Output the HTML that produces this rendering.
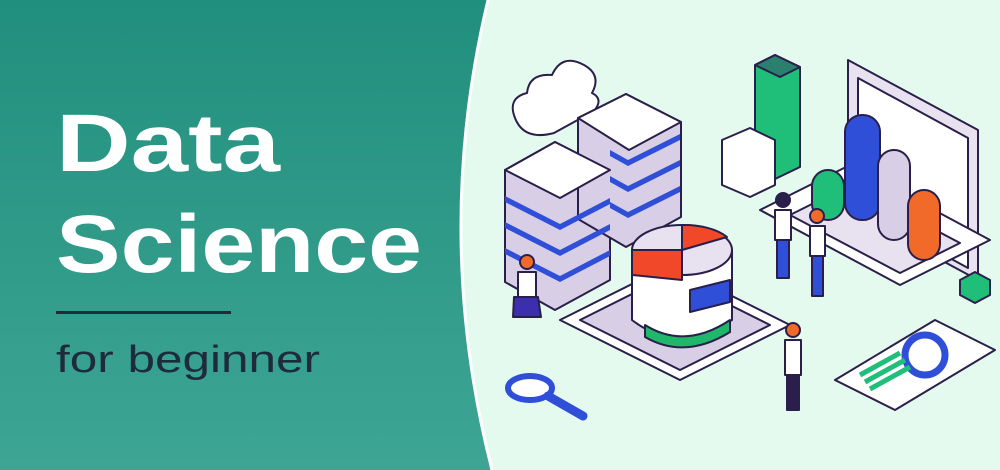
<!DOCTYPE html>
<html><head><meta charset="utf-8"><style>
html,body{margin:0;padding:0;width:1000px;height:470px;overflow:hidden;background:#e4faee}
svg{display:block}
</style></head><body>
<svg width="1000" height="470" viewBox="0 0 1000 470" xmlns="http://www.w3.org/2000/svg">
<defs><linearGradient id="g" x1="0" y1="0" x2="0" y2="1"><stop offset="0" stop-color="#218f7d"/><stop offset="1" stop-color="#3ea594"/></linearGradient></defs>
<rect width="1000" height="470" fill="#e4faee"/>
<path d="M0 0H488Q432 235 492 470H0Z" fill="url(#g)"/>
<path d="M488 0Q432 235 492 470" fill="none" stroke="#fff" stroke-width="3"/>
<text x="56" y="171" textLength="224" lengthAdjust="spacingAndGlyphs" font-family="Liberation Sans,sans-serif" font-weight="bold" font-size="82" fill="#fff">Data</text>
<text x="56" y="272" textLength="366" lengthAdjust="spacingAndGlyphs" font-family="Liberation Sans,sans-serif" font-weight="bold" font-size="82" fill="#fff">Science</text>
<rect x="56" y="311" width="175" height="3" fill="#1d2b3a"/>
<text x="56" y="372" textLength="264" lengthAdjust="spacingAndGlyphs" font-family="Liberation Sans,sans-serif" font-size="38" fill="#1d2b3a">for beginner</text>
<g stroke="#2a1f4a" stroke-width="2" stroke-linejoin="round">
<path d="M515 118q-8-20 12-25q2-20 25-18q10-22 32-10q18 10 8 28q12 6 2 18l-40 22q-30 8-39-15z" fill="#fff"/>
<g fill="#d8cfe6">
<path d="M505 170l50-28 55 28v110l-55 30-50-28z"/>
<path d="M578 118l48-24 55 28v95l-55 30-48-28z"/>
</g>
<path d="M505 170l50-28 55 28-50 28z" fill="#fff"/>
<path d="M578 118l48-24 55 28-52 28z" fill="#fff"/>
<g fill="#2f4fd8" stroke="none">
<path d="M505 196l55 28 50-26v6l-50 26-55-28z"/><path d="M505 222l55 28 50-26v6l-50 26-55-28z"/><path d="M505 248l55 28 50-26v6l-50 26-55-28z"/>
<path d="M610 150l18 10 52-26v6l-52 26-18-10z"/><path d="M610 176l18 10 52-26v6l-52 26-18-10z"/><path d="M610 202l18 10 52-26v6l-52 26-18-10z"/>
</g>
<path d="M560 320l110-55 120 60-110 55z" fill="#fff"/>
<path d="M580 320l90-45 100 50-90 45z" fill="#d8cfe6"/>
<path d="M632 250v70q45 35 100 0v-70z" fill="#fff"/>
<ellipse cx="682" cy="250" rx="50" ry="25" fill="#e8e2f0"/>
<path d="M682 250l0-25a50 25 0 0 1 45 12z" fill="#f2482a"/>
<path d="M632 250h50v30l-50-5z" fill="#f2482a"/>
<path d="M690 290l40-10v22l-40 10z" fill="#2f4fd8"/>
<path d="M645 325q40 25 85-5v12q-45 28-85 5z" fill="#1fb86a"/>
<path d="M755 65l20-10 25 12v100l-25 12-20-10z" fill="#1fbf7a"/>
<path d="M755 65l20-10 25 12-20 10z" fill="#29806f"/>
<path d="M722 140l28-12 25 12v45l-25 12-28-12z" fill="#fff"/>
<path d="M848 60l130 70v150l-130-70z" fill="#e8e2f0"/>
<path d="M858 78l110 60v130l-110-60z" fill="#fff"/>
<path d="M760 210l90-45 140 75-90 45z" fill="#fff"/>
<path d="M790 215l60-30 110 58-60 30z" fill="#e8e2f0"/>
<rect x="845" y="115" width="35" height="105" rx="17" fill="#2f4fd8"/>
<rect x="878" y="150" width="32" height="90" rx="16" fill="#d8cfe6"/>
<rect x="812" y="170" width="32" height="50" rx="16" fill="#1fbf7a"/>
<rect x="908" y="190" width="32" height="70" rx="16" fill="#f26a2a"/>
<path d="M835 380l100-60 60 30-100 60z" fill="#fff"/>
<circle cx="925" cy="355" r="20" fill="none" stroke="#2f4fd8" stroke-width="7"/>
<path d="M860 375l40-22M865 382l40-22M870 389l40-22" stroke="#1fbf7a" stroke-width="5"/>
<ellipse cx="530" cy="388" rx="22" ry="12" fill="#fff" stroke="#2f4fd8" stroke-width="6"/>
<path d="M548 396l35 20" stroke="#2f4fd8" stroke-width="9" stroke-linecap="round"/>
<circle cx="527" cy="262" r="7" fill="#f26a2a"/><path d="M518 272h18v25h-18z" fill="#fff"/><path d="M514 297h24l3 20h-28z" fill="#3b2fb0"/>
<circle cx="783" cy="200" r="7" fill="#2a1f4a"/><path d="M775 210h16v30h-16z" fill="#fff"/><path d="M777 240h12v38h-12z" fill="#2f4fd8"/>
<circle cx="817" cy="216" r="7" fill="#f26a2a"/><path d="M810 226h15v30h-15z" fill="#fff"/><path d="M812 256h11v40h-11z" fill="#2f4fd8"/>
<circle cx="793" cy="330" r="7" fill="#f26a2a"/><path d="M785 340h16v35h-16z" fill="#fff"/><path d="M787 375h12v35h-12z" fill="#2a1f4a"/>
<path d="M960 280l15-8 15 8v15l-15 8-15-8z" fill="#1fbf7a"/>
</g>
</svg>
</body></html>
